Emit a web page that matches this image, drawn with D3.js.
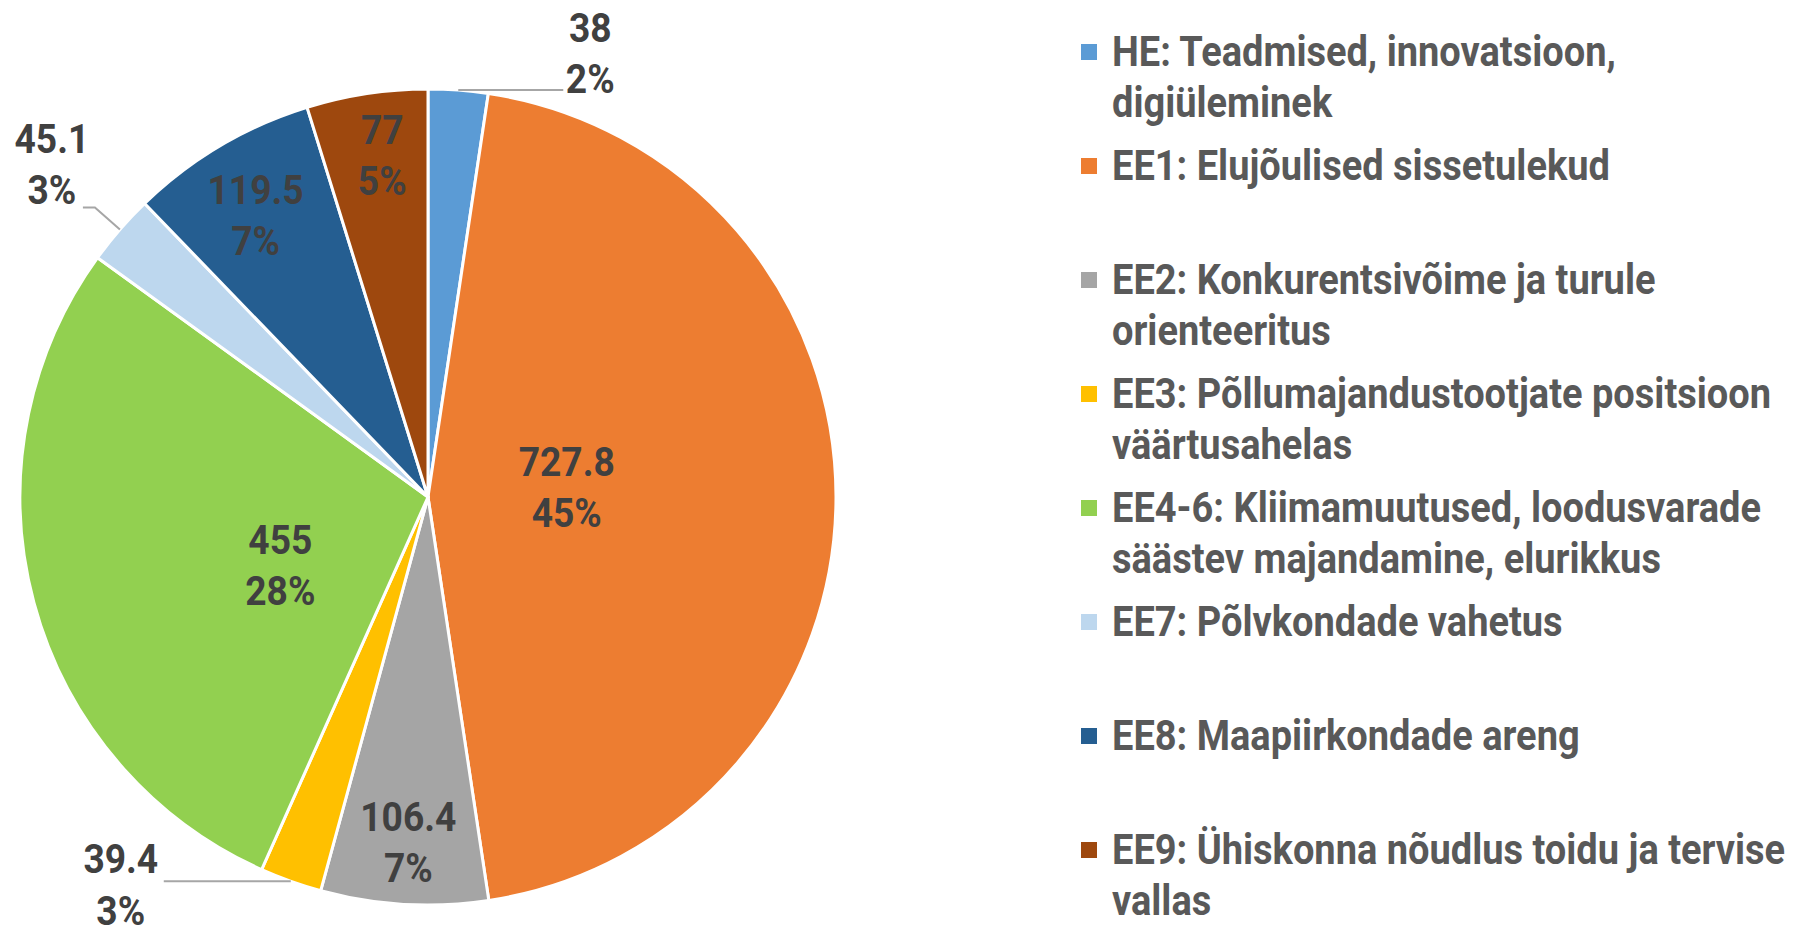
<!DOCTYPE html>
<html>
<head>
<meta charset="utf-8">
<script src="https://cdn.jsdelivr.net/npm/d3@7"></script>
<style>
  body { margin: 0; background: #fff; }
  text { font-family: Roboto, "Noto Sans", sans-serif; font-weight: 700; }
</style>
</head>
<body>
<div id="chart"></div>
<script>
// --- data
const categories = [
  "HE: Teadmised, innovatsioon, digiüleminek",
  "EE1: Elujõulised sissetulekud",
  "EE2: Konkurentsivõime ja turule orienteeritus",
  "EE3: Põllumajandustootjate positsioon väärtusahelas",
  "EE4-6: Kliimamuutused, loodusvarade säästev majandamine, elurikkus",
  "EE7: Põlvkondade vahetus",
  "EE8: Maapiirkondade areng",
  "EE9: Ühiskonna nõudlus toidu ja tervise vallas"
];
const legendLines = [
  ["HE: Teadmised, innovatsioon,", "digiüleminek"],
  ["EE1: Elujõulised sissetulekud"],
  ["EE2: Konkurentsivõime ja turule", "orienteeritus"],
  ["EE3: Põllumajandustootjate positsioon", "väärtusahelas"],
  ["EE4-6: Kliimamuutused, loodusvarade", "säästev majandamine, elurikkus"],
  ["EE7: Põlvkondade vahetus"],
  ["EE8: Maapiirkondade areng"],
  ["EE9: Ühiskonna nõudlus toidu ja tervise", "vallas"]
];
const values = [38, 727.8, 106.4, 39.4, 455, 45.1, 119.5, 77];
const percentLabels = ["2%", "45%", "7%", "3%", "28%", "3%", "7%", "5%"];
const colors = ["#5B9BD5", "#ED7D31", "#A5A5A5", "#FFC000", "#92D050", "#BDD7EE", "#255E91", "#9E480E"];

const width = 1803, height = 935;
const cx = 428, cy = 497, radius = 408;
const LABEL_SX = 0.93, LEGEND_SX = 0.905;   // narrow the font like a condensed face

const svg = d3.select("#chart").append("svg")
  .attr("width", width)
  .attr("height", height);

const pie = d3.pie().sort(null).value(d => d)(values);
const arc = d3.arc().innerRadius(0).outerRadius(radius);

const g = svg.append("g").attr("transform", `translate(${cx},${cy})`);

g.selectAll("path")
  .data(pie)
  .enter()
  .append("path")
  .attr("d", arc)
  .attr("fill", (d, i) => colors[i])
  .attr("stroke", "#fff")
  .attr("stroke-width", 3)
  .attr("stroke-linejoin", "round");

function twoLines(parent, x, y, a, b, gap) {
  const t = parent.append("g").attr("transform", `translate(${x},${y}) scale(${LABEL_SX},1)`);
  [a, b].forEach((s, k) => {
    t.append("text")
      .attr("text-anchor", "middle")
      .attr("dominant-baseline", "central")
      .attr("y", (k ? 1 : -1) * gap / 2)
      .attr("font-size", 40)
      .attr("fill", "#404040")
      .text(s);
  });
}

const mid = d => (d.startAngle + d.endAngle) / 2;
const onArc = (a, r) => [Math.sin(a) * r, -Math.cos(a) * r];

// labels inside slices (best-fit style nudges, like the spreadsheet did)
const outside = { 0: true, 3: true, 5: true };
const nudge = { 1: [0, -9], 4: [10, 26], 2: [0, 7], 6: [0, 10], 7: [5, -7] };
pie.forEach((d, i) => {
  if (outside[i]) return;
  const span = d.endAngle - d.startAngle;
  const r = span > Math.PI / 2 ? radius * (i === 1 ? 0.34 : 0.4) : radius * 0.83;
  let [x, y] = onArc(mid(d), r);
  const n = nudge[i] || [0, 0];
  twoLines(g, x + n[0], y + n[1], values[i], percentLabels[i], 51);
});

// small slices: label outside with a leader line
const leader = g.append("g").attr("fill", "none").attr("stroke", "#A6A6A6").attr("stroke-width", 2);
{
  const d = pie[0];
  const [x, y] = onArc(mid(d), radius);
  leader.append("path").attr("d", d3.line()([[x, y], [x + 105, y]]));
  twoLines(g, x + 132, y - 37, values[0], percentLabels[0], 51);
}
{
  const d = pie[5];
  const [x, y] = onArc(mid(d), radius);
  leader.append("path").attr("d", d3.line()([[x, y], [x - 25, y - 22], [x - 37, y - 22]]));
  twoLines(g, x - 68, y - 65, values[5], percentLabels[5], 52);
}
{
  const d = pie[3];
  const [x, y] = onArc(mid(d), radius);
  leader.append("path").attr("d", d3.line()([[x, y], [x - 127, y]]));
  twoLines(g, x - 170, y + 4, values[3], percentLabels[3], 52);
}

// legend
const slot = 114, lineH = 51;
const legend = svg.append("g");
legendLines.forEach((lines, i) => {
  const y0 = 52 + i * slot;
  legend.append("rect")
    .attr("x", 1081).attr("y", y0 - 8)
    .attr("width", 16).attr("height", 16)
    .attr("fill", colors[i]);
  const t = legend.append("g").attr("transform", `translate(1112,${y0}) scale(${LEGEND_SX},1)`);
  lines.forEach((s, k) => {
    t.append("text")
      .attr("y", k * lineH)
      .attr("dominant-baseline", "central")
      .attr("font-size", 42)
      .attr("fill", "#595959")
      .text(s);
  });
});
</script>
</body>
</html>
